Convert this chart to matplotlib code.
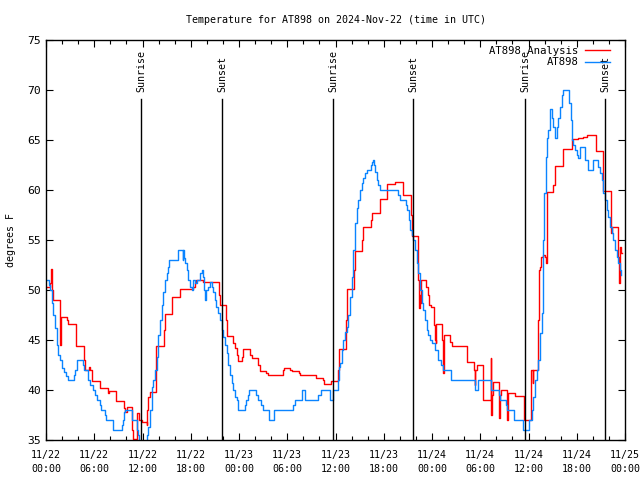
import matplotlib
matplotlib.use("Agg")
import matplotlib.pyplot as plt
from matplotlib.ticker import MultipleLocator

# Hours since 2024-11-22 00:00 UTC, step ("post") breakpoints
obs_t = [0.0, 0.4, 0.55, 0.7, 0.9, 1.1, 1.33, 1.53, 1.74, 1.95, 2.24, 2.5, 2.7, 3.45, 3.65, 3.9,
         4.6, 4.77, 5.2, 5.5, 5.85, 6.1, 6.3, 6.7, 6.9, 7.3, 7.5, 8.37, 9.45, 9.6, 9.75, 9.85,
         10.7, 11.3, 11.45, 11.6, 12.5, 12.6, 12.72, 12.93, 13.14, 13.3, 13.5, 13.6, 13.76, 13.97,
         14.18, 14.38, 14.59, 14.8, 15.0, 15.2, 15.33, 16.37, 17.0, 17.05, 17.15, 17.3, 17.49, 17.7,
         17.9, 18.1, 18.32, 18.5, 18.73, 19.15, 19.36, 19.5, 19.65, 19.77, 19.9, 20.1, 20.39, 20.6,
         20.8, 21.0, 21.2, 21.43, 21.6, 21.84, 22.05, 22.26, 22.45, 22.67, 22.9, 23.09, 23.3, 23.5,
         23.71, 23.92, 24.75, 24.87, 25.16, 25.28, 26.11, 26.4, 26.7, 26.94, 27.77, 28.39, 30.75,
         30.96, 31.88, 32.2, 33.86, 34.15, 35.31, 35.65, 36.35, 36.45, 36.56, 36.77, 36.97, 37.18,
         37.39, 37.59, 37.8, 38.01, 38.22, 38.42, 38.63, 38.84, 39.04, 39.25, 39.46, 39.67, 39.88,
         40.41, 40.55, 40.7, 40.8, 40.91, 41.12, 41.3, 41.53, 43.81, 44.02, 44.77, 44.93, 45.1, 45.3,
         45.47, 45.68, 45.88, 46.09, 46.3, 46.5, 46.71, 46.92, 47.12, 47.33, 47.54, 47.75, 48.0,
         48.37, 48.78, 49.1, 49.4, 50.32, 53.35, 53.76, 55.3, 56.3, 56.45, 57.2, 57.29, 58.2, 59.27,
         60.1, 60.4, 60.6, 60.8, 61.02, 61.22, 61.43, 61.64, 61.76, 61.84, 61.97, 62.17, 62.34,
         62.46, 62.67, 62.88, 63.09, 63.29, 63.5, 63.71, 63.91, 64.12, 64.33, 65.07, 65.24,
         65.37, 65.57, 65.78, 65.99, 66.19, 66.4, 67.02, 67.44, 68.06, 68.68, 68.89, 69.1, 69.3,
         69.51, 69.72, 69.92, 70.13, 70.34, 70.55, 70.76, 70.96, 71.17, 71.38, 71.5]
obs_v = [51, 50.5, 50, 48.7, 47.5, 46.2, 44.5, 43.5, 43, 42.2, 41.8, 41.4, 41, 41.5, 42, 43,
         42.5, 42, 41, 40.5, 40, 39.5, 39, 38.5, 38, 37.5, 37, 36, 36.5, 37, 37.8, 38,
         37, 36, 35.5, 34, 35, 35.5, 36.3, 38, 40.3, 41, 41.5, 42, 43.3, 45.5,
         47, 48.5, 49.8, 51, 51.7, 52.3, 53, 54, 53, 54, 53.2, 52.7, 52, 51,
         50.3, 50, 51, 50.7, 51, 51.7, 52, 51.3, 50, 49, 50, 50.3, 50.8, 50.3,
         49.8, 49, 48.3, 47.7, 47, 46, 45.3, 44.5, 43.7, 42.5, 41.5, 40.7, 40, 39.3,
         39, 38, 38.5, 39, 39.5, 40, 39.5, 39, 38.5, 38, 37, 38, 38.5,
         39, 40, 39, 39.5, 40, 39, 40, 41, 42.3, 42.7, 44, 45, 45.8,
         46.3, 47.5, 49.3, 51.3, 54, 56.7, 58.2, 59, 60, 60.7, 61.2, 61.7, 62,
         62.5, 62.8, 63, 62.5, 61.8, 61, 60.5, 60, 59.5, 59, 58.5, 58, 57, 56,
         55.5, 55, 54, 52.7, 51.7, 50, 48.7, 48, 47, 46, 45.5, 45, 44.7,
         44, 43, 42.5, 42, 41, 40, 41, 40, 39.5, 39, 38.5, 38, 37, 36,
         37, 38, 39.3, 41, 42, 43, 45.7, 47.7, 50, 55, 59.7, 63.3, 65.2,
         66, 68.1, 67.2, 66.3, 65.2, 66.3, 67.2, 68.3, 69.5, 70, 68.7, 67,
         65, 64.5, 64, 63.5, 63.2, 64.3, 63, 62, 63, 62.3, 61.7, 61, 59.7,
         59, 58, 57.3, 56.3, 55.7, 55, 54, 53.3, 52.7, 52, 51.5]

ana_t = [0.0, 0.5, 0.6, 0.66, 0.75, 0.83, 1.74, 1.8, 1.91, 2.65, 2.78, 3.73, 4.73, 4.85, 5.39,
         5.47, 5.68, 6.71, 7.75, 7.87, 8.7, 9.65, 9.82, 10.03, 10.7, 10.77, 11.3, 11.36, 11.6,
         11.9, 12.5, 12.6, 12.72, 12.93, 13.68, 14.67, 14.8, 15.71, 16.66, 18.32, 18.5, 18.65,
         19.56, 21.55, 21.64, 22.38, 22.46, 22.55, 23.3, 23.5, 23.71, 23.92, 24.33, 24.5, 25.4,
         25.57, 26.4, 26.6, 27.4, 27.65, 29.45, 29.55, 30.4, 30.54, 31.4, 31.58, 33.6, 34.4, 34.55,
         35.45, 36.3, 36.4, 37.35, 37.45, 38.3, 38.42, 39.3, 39.46, 40.45, 40.5, 41.5, 42.4, 43.4,
         44.4, 45.4, 45.47, 46.3, 46.38, 46.48, 46.55, 46.65, 47.3, 47.45, 47.66, 47.83, 48.3,
         48.37, 48.45, 48.55, 49.2, 49.35, 49.45, 49.55, 50.3, 50.45, 52.35, 53.22, 53.3, 53.4,
         53.64, 54.3, 55.3, 55.34, 55.42, 55.63, 56.3, 56.4, 56.54, 57.3, 57.35, 57.45, 57.5,
         58.32, 59.4, 59.5, 60.18, 60.27, 60.35, 60.5, 60.55, 61.14, 61.22, 61.35, 61.43, 61.6,
         61.84, 62.05, 62.14, 62.26, 62.34, 63.09, 63.29, 64.33, 65.37, 66.2, 66.8, 67.32, 68.35,
         69.3, 70.21, 70.3, 70.34, 71.17, 71.29, 71.38, 71.5, 71.6]
ana_v = [50.3, 50.7, 51.7, 52.1, 50, 49, 47, 44.5, 47.3, 47, 46.6, 44.4, 43, 42, 42.3,
         42, 40.9, 40.2, 39.7, 39.9, 38.9, 38.2, 37.8, 38.3, 36, 35.05, 36.7, 37.7, 37,
         36.8, 36.5, 38, 39.3, 39.8, 44.4, 46, 47.6, 49.3, 50.1, 50.3, 50.7, 51,
         50.8, 49.5, 48.5, 47, 46, 45.4, 44.7, 44.2, 43.5, 42.9, 43.3, 44.1, 43.5,
         43.2, 42.5, 41.9, 41.7, 41.5, 42, 42.2, 42, 41.9, 41.7, 41.5, 41.2, 41, 40.6,
         40.9, 42, 44.1, 47, 50.1, 52, 53.9, 55, 56.3, 57, 57.7, 59.1, 60.6, 60.8,
         59.5, 57.5, 55.4, 51, 48.2, 49.5, 48.7, 51, 50.3, 49.5, 48.5, 48.3, 46.5,
         45, 44.7, 46.6, 45, 41.7, 44, 45.5, 44.8, 44.4, 42.8, 42, 40.5, 42,
         42.5, 39, 43.2, 37.5, 39.5, 40.8, 37.2, 39.5, 40, 40, 37, 39.5, 39.7,
         39.4, 38, 37, 37, 41, 42, 40.7, 42, 42, 47, 52, 52.3, 53.3,
         53.5, 53.3, 52.7, 56, 59.8, 60.5, 62.4, 64.1, 65.1, 65.2, 65.3, 65.5, 63.9,
         59.9, 57, 55.7, 56.3, 53.3, 50.7, 54.3, 53.7, 53.7]

sun_t = [11.81, 21.88, 35.69, 45.64, 59.56, 69.51]
sun_lbl = ["Sunrise", "Sunset", "Sunrise", "Sunset", "Sunrise", "Sunset"]

tick_t = [0, 6, 12, 18, 24, 30, 36, 42, 48, 54, 60, 66, 72]
tick_lbl = ["11/22\n00:00", "11/22\n06:00", "11/22\n12:00", "11/22\n18:00",
            "11/23\n00:00", "11/23\n06:00", "11/23\n12:00", "11/23\n18:00",
            "11/24\n00:00", "11/24\n06:00", "11/24\n12:00", "11/24\n18:00",
            "11/25\n00:00"]

FONT = "DejaVu Sans Mono"
FS = 7.2
plt.rcParams["font.family"] = FONT

fig = plt.figure(figsize=(6.4, 4.8), dpi=100)
ax = fig.add_axes([46/640, 40/480, (625-46)/640, (440-40)/480])

ax.step(ana_t, ana_v, where="post", color="#ff0000", lw=1.0, label="AT898 Analysis")
ax.step(obs_t, obs_v, where="post", color="#0a84ff", lw=1.0, label="AT898")

for t, l in zip(sun_t, sun_lbl):
    ax.plot([t, t], [35, 69.1], color="black", lw=1.0)
    ax.text(t, 69.8, l, rotation=90, ha="center", va="bottom", fontsize=FS)

ax.set_xlim(0, 72)
ax.set_ylim(35, 75)
ax.set_xticks(tick_t)
ax.set_xticklabels(tick_lbl, fontsize=FS, linespacing=1.5)
ax.xaxis.set_minor_locator(MultipleLocator(2))
ax.set_yticks(range(35, 76, 5))
ax.tick_params(axis="y", labelsize=FS+1)
ax.tick_params(axis="x", pad=7.5)
ax.tick_params(which="both", direction="in", top=True, right=True, width=0.8)
ax.tick_params(which="major", length=5)
ax.tick_params(which="minor", length=3)
for s in ax.spines.values():
    s.set_linewidth(1.0)

ax.set_title("Temperature for AT898 on 2024-Nov-22 (time in UTC)", fontsize=FS, pad=12)
ax.set_ylabel("degrees F", fontsize=FS, labelpad=8)

leg = ax.legend(loc="upper right", frameon=False, markerfirst=False, fontsize=FS+0.5,
                handlelength=2.4, handletextpad=0.6, labelspacing=0.15,
                borderaxespad=0.15, bbox_to_anchor=(0.985, 1.0))

fig.savefig("out.png", dpi=100)
